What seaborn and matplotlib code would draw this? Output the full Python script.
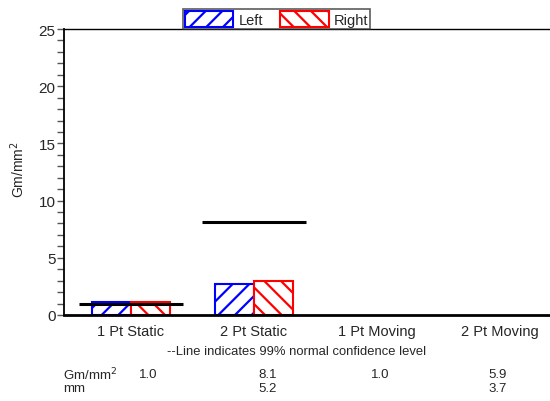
import matplotlib
matplotlib.use("Agg")
import matplotlib.pyplot as plt
from matplotlib.patches import Patch
from matplotlib.ticker import MultipleLocator
import seaborn as sns
import pandas as pd

# Measurements
categories = ["1 Pt Static", "2 Pt Static", "1 Pt Moving", "2 Pt Moving"]
left_values = [1.15, 2.68, 0.0, 0.0]
right_values = [1.15, 3.0, 0.0, 0.0]
# 99% normal confidence levels
conf_gm = [1.0, 8.1, 1.0, 5.9]
conf_mm = [None, 5.2, None, 3.7]
sides = ["Left", "Right"]
side_colors = {"Left": "#0000ff", "Right": "#ff0000"}
side_hatch = {"Left": "//", "Right": "\\\\"}

df = pd.DataFrame({
    "category": categories * 2,
    "side": ["Left"] * len(categories) + ["Right"] * len(categories),
    "value": left_values + right_values,
})

sns.set_style("white")
plt.rcParams["font.family"] = ["Liberation Sans", "DejaVu Sans"]
plt.rcParams["hatch.linewidth"] = 1.6

fig = plt.figure(figsize=(5.5, 4.02), dpi=100)
ax = fig.add_axes([64 / 550, 1 - 316 / 402, 1 - 64 / 550, (316 - 30) / 402])

sns.barplot(data=df, x="category", y="value", hue="side", order=categories,
            hue_order=sides, palette=side_colors, fill=False, width=0.64,
            gap=0, linewidth=1.5, ax=ax, legend=False, errorbar=None)

# style bars: colored hatch, white face, hide empty bars
for container, side in zip(ax.containers, sides):
    for bar in container:
        if bar.get_height() == 0:
            bar.set_visible(False)
            continue
        bar.set_facecolor("white")
        bar.set_edgecolor(side_colors[side])
        bar.set_hatch(side_hatch[side])
        bar.set_linewidth(1.5)

# confidence level lines where bars are present
for i, (lv, rv, c) in enumerate(zip(left_values, right_values, conf_gm)):
    if lv > 0 or rv > 0:
        ax.hlines(c, i - 0.425, i + 0.425, color="black", lw=2.2, zorder=5)

ax.set_ylim(0, 25)
ax.set_xlim(-0.545, 3.41)
ax.yaxis.set_major_locator(MultipleLocator(5))
ax.yaxis.set_minor_locator(MultipleLocator(1))
ax.tick_params(axis="y", which="both", left=True, direction="out",
               color="#555555", width=1, labelsize=11, pad=1)
ax.tick_params(axis="y", which="major", length=5)
ax.tick_params(axis="y", which="minor", length=5)
ax.tick_params(axis="x", bottom=False, labelsize=10.5, pad=3)
ax.set_xlabel("")
ax.set_ylabel("")

for s in ["left", "top", "bottom"]:
    ax.spines[s].set_visible(True)
    ax.spines[s].set_color("black")
ax.spines["right"].set_visible(False)
ax.spines["left"].set_linewidth(1.3)
ax.spines["top"].set_linewidth(1.0)
ax.spines["bottom"].set_linewidth(2.0)

fig.text(18 / 550, 1 - 170 / 402, "Gm/mm$^2$", rotation=90,
         ha="center", va="center", fontsize=10)

# legend
handles = [Patch(facecolor="white", edgecolor=side_colors[s], hatch=side_hatch[s],
                 linewidth=1.5, label=s) for s in sides]
leg = fig.legend(handles=handles, loc="lower center", ncol=2,
                 bbox_to_anchor=(0.503, 1 - 30 / 402), fontsize=10.5,
                 frameon=True, fancybox=False, handlelength=3.3,
                 handleheight=1.25, handletextpad=0.35, columnspacing=1.2,
                 borderpad=0.15, borderaxespad=0)
leg.get_frame().set_edgecolor("#333333")
leg.get_frame().set_linewidth(1.2)

# footnote and confidence table
fig.text(297 / 550, 1 - 352 / 402,
         "--Line indicates 99% normal confidence level",
         ha="center", va="center", fontsize=9.4)
fig.text(63 / 550, 1 - 375 / 402, "Gm/mm$^2$", ha="left", va="center", fontsize=9.5)
fig.text(63 / 550, 1 - 389 / 402, "mm", ha="left", va="center", fontsize=9.5)
value_right_edges = [157, 277, 389, 507]
for xr, g, m in zip(value_right_edges, conf_gm, conf_mm):
    fig.text(xr / 550, 1 - 375 / 402, f"{g:.1f}", ha="right", va="center", fontsize=9.5)
    if m is not None:
        fig.text(xr / 550, 1 - 389 / 402, f"{m:.1f}", ha="right", va="center", fontsize=9.5)

fig.savefig("out.png", dpi=100)
